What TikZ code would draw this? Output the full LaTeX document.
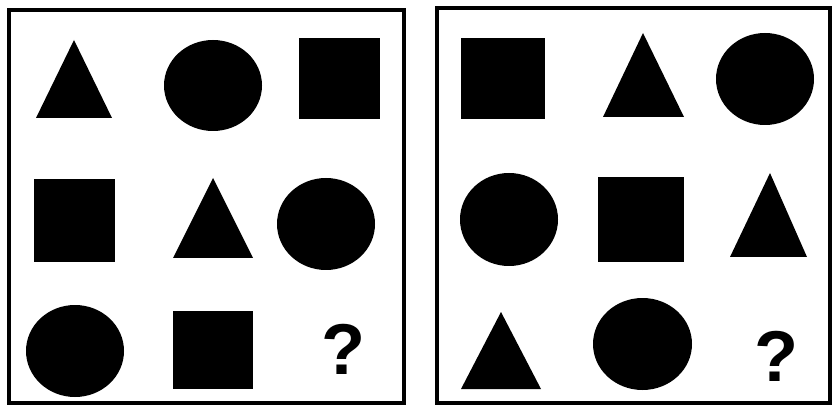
\documentclass[tikz,border=0pt]{standalone}
\usepackage{fontspec}
\setmainfont{Liberation Sans}
\usetikzlibrary{positioning}
\definecolor{ink}{HTML}{000000}
\newcommand{\QFont}{\bfseries\fontsize{72}{72}\selectfont}
\tikzset{
  puzzle frame/.style={draw=ink, line width=3.4pt},
  solid shape/.style={fill=ink},
  query mark/.style={font=\QFont, text=ink, inner sep=0pt},
}
\begin{document}
\begin{tikzpicture}[x=1pt,y=-1pt]
  \useasboundingbox (0,0) rectangle (833,406);

  % Frames
  \draw[puzzle frame] (9,10) rectangle (404,403);
  \draw[puzzle frame] (437,8) rectangle (830,403);

  % Triangles (left apex, base)
  \foreach \xa/\xt/\xb/\yt/\yb in {36/74/112/40/118, 173/213/253/178/258,
    603/643/684/33/117, 730/770/807/173/257, 461/501/541/312/389}
    \fill[solid shape] (\xa,\yb) -- (\xt,\yt) -- (\xb,\yb) -- cycle;

  % Circles
  \foreach \cx/\cy/\rx/\ry in {213/85.5/49/45.5, 326/224/49/46, 75/351/49/46,
    765/79/49/46, 509/219.5/49/46.5, 642.5/344/49.5/46}
    \fill[solid shape] (\cx,\cy) ellipse [x radius=\rx, y radius=\ry];

  % Squares
  \foreach \xa/\ya/\xb/\yb in {299/38/380/119, 34/179/115/262, 173/311/253/389,
    461/38/545/119, 598/177/684/262}
    \fill[solid shape] (\xa,\ya) rectangle (\xb,\yb);

  % Missing cells
  \node[query mark] (qleft) at (343,349) {?};
  \node[query mark] (qright) at (776,356) {?};
\end{tikzpicture}
\end{document}
